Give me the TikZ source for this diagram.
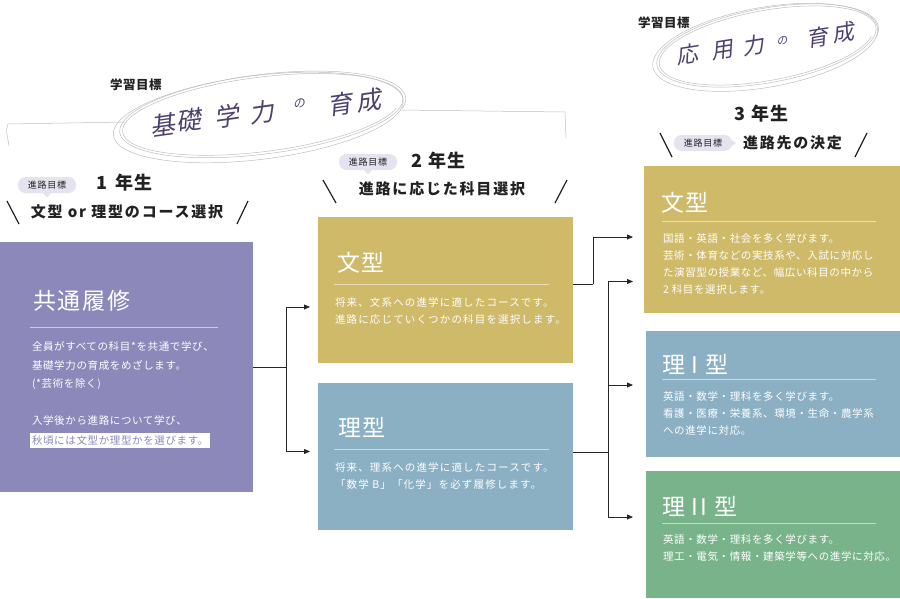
\documentclass[tikz,border=0pt]{standalone}
\usepackage{fontspec}
\setmainfont{Noto Sans CJK JP}
\newfontfamily\handfont[FakeSlant=0.22]{Noto Sans CJK JP}
\usetikzlibrary{arrows.meta,calc}
\definecolor{purp}{HTML}{8C88B9}
\definecolor{gold}{HTML}{CFBA6A}
\definecolor{bluec}{HTML}{8BAFC3}
\definecolor{greenc}{HTML}{78B38A}
\definecolor{pillc}{HTML}{E5E3EF}
\definecolor{handc}{HTML}{4F416F}
\definecolor{sketch}{HTML}{BDBDBD}
\definecolor{ink}{HTML}{222222}
\begin{document}
\begin{tikzpicture}[x=1pt,y=-1pt,
  every node/.style={inner sep=0pt, outer sep=0pt},
  box/.style={rectangle, anchor=north west, draw=none},
  ttl/.style={anchor=west, text=white, font=\fontsize{23}{23}\selectfont\addfontfeature{LetterSpace=8}},
  body/.style={anchor=north west, align=left, text=white, font=\fontsize{10.5}{16.8}\selectfont\addfontfeature{LetterSpace=#1}},
  body/.default=6,
  uline/.style={draw=white, draw opacity=0.55, line width=0.8pt},
  conn/.style={draw=black!85, line width=0.8pt},
  arr/.style={conn, -{Triangle[length=6pt,width=5pt]}},
  pill/.style={fill=pillc, rounded corners=7.5pt, minimum width=58pt, minimum height=16pt, text=ink, font=\fontsize{9}{9}\selectfont\addfontfeature{LetterSpace=8}},
  year/.style={anchor=west, text=ink, font=\fontsize{18}{18}\selectfont\bfseries\addfontfeature{LetterSpace=5}},
  sub/.style={text=ink, font=\fontsize{15}{15}\selectfont\bfseries\addfontfeature{LetterSpace=12}},
  goal/.style={anchor=west, text=ink, font=\fontsize{12.5}{12.5}\selectfont\bfseries\addfontfeature{LetterSpace=4}},
  slash/.style={draw=ink, line width=1.2pt},
  sk/.style={draw=sketch, line width=0.5pt},
  hw/.style={text=handc, rotate=8, font=\handfont\fontsize{25}{25}\selectfont},
  hwb/.style={text=handc, rotate=9, font=\handfont\fontsize{22}{22}\selectfont}
]
\useasboundingbox (0,0) rectangle (900,598);

% ---------- sketchy ellipses and guide lines ----------
\begin{scope}[rotate around={7:(262,115)}]
  \draw[sk] plot[domain=15:735, samples=160, smooth, variable=\t]
    ({262 + (139+0.008*\t)*cos(\t)}, {115 + (36+0.007*\t)*sin(\t)});
  \draw[sk] plot[domain=200:560, samples=100, smooth, variable=\t]
    ({258 + 146*cos(\t)}, {117 + 42*sin(\t)});
\end{scope}
\draw[sk] (125,122) -- (8,124) .. controls (5,130) and (8,138) .. (9,146);
\draw[sk] (400,110) -- (565,112) -- (566,138);

\begin{scope}[rotate around={10:(767,46)}]
  \draw[sk] plot[domain=15:735, samples=160, smooth, variable=\t]
    ({767 + (108+0.007*\t)*cos(\t)}, {46 + (34+0.006*\t)*sin(\t)});
  \draw[sk] plot[domain=180:540, samples=100, smooth, variable=\t]
    ({765 + 114*cos(\t)}, {47 + 40*sin(\t)});
\end{scope}

% ---------- handwritten goals ----------
\foreach \c/\x/\y/\n in {基/163/125/a, 礎/189/120/b, 学/227/116/c, 力/262/112/d, 育/340/104/f, 成/369/100/g}
  \node[hw] (hwA\n) at (\x,\y) {\c};
\node[hw, font=\handfont\fontsize{12}{12}\selectfont] (hwAe) at (299,104) {の};
\foreach \c/\x/\y/\n in {応/687/55/a, 用/722/50/b, 力/753/46/c, 育/817/38/e, 成/843/33/f}
  \node[hwb] (hwB\n) at (\x,\y) {\c};
\node[hwb, font=\handfont\fontsize{11}{11}\selectfont] (hwBd) at (782,41) {の};

\node[goal] (g1) at (110,85) {学習目標};
\node[goal] (g2) at (638,23) {学習目標};

% ---------- year headers ----------
\node[pill] (p1) at (47,185) {進路目標};
\fill[pillc] ($(p1.south)+(-4,0)$) -- ($(p1.south)+(0,4.5)$) -- ($(p1.south)+(4,0)$) -- cycle;
\node[year] (y1) at (96,183) {1\hspace{9pt}年生};
\node[sub] (s1) at (127,212) {文型 or 理型のコース選択};
\draw[slash] (7,201) -- (19,224);
\draw[slash] (237,224) -- (248,201);

\node[pill] (p2) at (368,162) {進路目標};
\fill[pillc] ($(p2.south)+(-4,0)$) -- ($(p2.south)+(0,4.5)$) -- ($(p2.south)+(4,0)$) -- cycle;
\node[year] (y2) at (411,161) {2\hspace{7pt}年生};
\node[sub] (s2) at (442,189) {進路に応じた科目選択};
\draw[slash] (323,180) -- (336,203);
\draw[slash] (555,203) -- (567,180);

\node[year] (y3) at (734,114) {3\hspace{7pt}年生};
\node[pill] (p3) at (703,143) {進路目標};
\fill[pillc] ($(p3.east)+(-2,-4)$) -- ($(p3.east)+(4,0)$) -- ($(p3.east)+(-2,4)$) -- cycle;
\node[sub, anchor=west] (s3) at (743,143) {進路先の決定};
\draw[slash] (660,133) -- (672,157);
\draw[slash] (855,157) -- (867,133);

% ---------- boxes ----------
\node[box, fill=purp, minimum width=253pt, minimum height=250pt] (common) at (0,242) {};
\node[box, fill=gold, minimum width=255pt, minimum height=146pt] (bun2) at (318,217) {};
\node[box, fill=bluec, minimum width=255pt, minimum height=147pt] (ri2) at (318,383) {};
\node[box, fill=gold, minimum width=256pt, minimum height=147pt] (bun3) at (644,166) {};
\node[box, fill=bluec, minimum width=254pt, minimum height=126pt] (riA) at (646,331) {};
\node[box, fill=greenc, minimum width=254pt, minimum height=127pt] (riB) at (646,471) {};

% titles
\node[ttl] (tc) at (33,301) {共通履修};
\node[ttl] (tb2) at (337,263) {文型};
\node[ttl] (tr2) at (338,427) {理型};
\node[ttl] (tb3) at (661,203) {文型};
\node[ttl] (trA) at (662,364) {理 I 型};
\node[ttl] (trB) at (662,506) {理 II 型};

% underlines
\draw[uline] (30,327) -- (218,327);
\draw[uline] (334,284) -- (549,284);
\draw[uline] (334,449) -- (549,449);
\draw[uline] (662,221) -- (876,221);
\draw[uline] (662,379) -- (876,379);
\draw[uline] (662,523) -- (876,523);

% bodies
\node[body, font=\fontsize{10.5}{18.5}\selectfont\addfontfeature{LetterSpace=6}] (bc) at (32,341.75)
  {全員がすべての科目*を共通で学び、\\基礎学力の育成をめざします。\\(*芸術を除く)\\[18.5pt]入学後から進路について学び、};
\node[anchor=west, fill=white, text=purp, inner xsep=2pt, minimum height=15pt,
  font=\fontsize{10.5}{10.5}\selectfont\addfontfeature{LetterSpace=6}] (hl) at (30,440.5)
  {秋頃には文型か理型かを選びます。};
\node[body=11] (bb2) at (335,297.75)
  {将来、文系への進学に適したコースです。\\進路に応じていくつかの科目を選択します。};
\node[body=11] (br2) at (335,462.75)
  {将来、理系への進学に適したコースです。\\「数学 B」「化学」を必ず履修します。};
\node[body] (bb3) at (663,233.75)
  {国語・英語・社会を多く学びます。\\芸術・体育などの実技系や、入試に対応し\\た演習型の授業など、幅広い科目の中から\\2 科目を選択します。};
\node[body] (brA) at (663,391.75)
  {英語・数学・理科を多く学びます。\\看護・医療・栄養系、環境・生命・農学系\\への進学に対応。};
\node[body] (brB) at (663,534.75)
  {英語・数学・理科を多く学びます。\\理工・電気・情報・建築学等への進学に対応。};

% ---------- connectors ----------
\draw[conn] (common.east) -- ++(33,0) coordinate (j1);
\draw[arr] (j1) |- ($(bun2.west)+(-8,17)$);
\draw[arr] (j1) |- ($(ri2.west)+(-8,-5)$);

\draw[conn] ($(bun2.east)+(0,-6)$) -- ++(20,0) coordinate (j2);
\draw[arr] (j2) |- ($(bun3.west)+(-11,-2.5)$);

\draw[conn] ($(ri2.east)+(0,-4.5)$) -- ++(35,0) coordinate (j3);
\draw[arr] (j3) |- ($(bun3.west)+(-11,42)$);
\draw[arr] (j3) |- ($(riA.west)+(-13,-9)$);
\draw[arr] (j3) |- ($(riB.west)+(-13,-17.5)$);
\end{tikzpicture}
\end{document}
